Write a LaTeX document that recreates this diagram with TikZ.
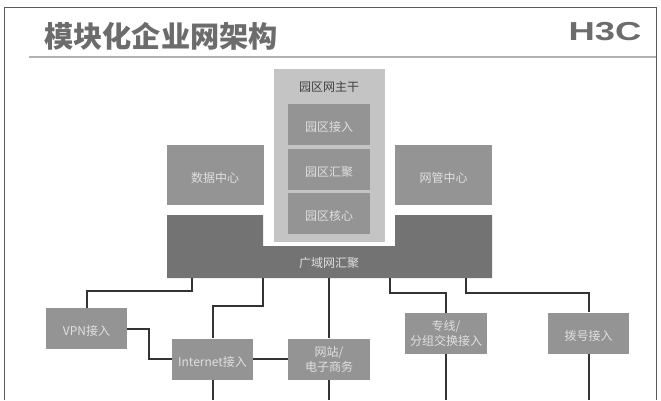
\documentclass[tikz,border=0pt]{standalone}
\usepackage{fontspec}
\setmainfont{Noto Sans CJK SC}
\newfontfamily\logofont{Liberation Sans}
\definecolor{backbonegray}{gray}{0.77}
\definecolor{boxgray}{gray}{0.58}
\definecolor{wangray}{gray}{0.45}
\definecolor{linegray}{gray}{0.2}
\definecolor{labelgray}{gray}{0.88}
\tikzset{
  block/.style={fill=boxgray,text=labelgray,font=\fontsize{12}{15}\selectfont,inner sep=0pt,align=center,minimum height=41pt,execute at begin node={\rule{0pt}{15.5pt}}},
  inner block/.style={block,minimum width=82pt},
  side block/.style={block,minimum width=97pt,minimum height=60pt},
  link/.style={draw=linegray,line width=2pt}
}
\begin{document}
\begin{tikzpicture}[x=1pt,y=-1pt]
  \useasboundingbox (0,0) rectangle (661,400);
  \draw[gray!70!black,line width=1pt] (4,400) -- (4,7.5) -- (656,7.5) -- (656,400);
  \draw[gray!60,line width=2pt] (29,57) -- (656,57);
  \node[anchor=west,inner sep=0pt,text=gray!85!black,font=\bfseries\fontsize{29.2}{32}\selectfont] (title) at (44,36) {模块化企业网架构};
  \node[inner sep=0pt,text=gray!85!black,font=\logofont\bfseries\fontsize{26}{26}\selectfont,xscale=1.4] (logo) at (605,31.5) {H3C};
  % backbone
  \node[fill=backbonegray,minimum width=111pt,minimum height=173pt,inner sep=0pt] (backbone) at (329.5,155) {};
  \node[font=\fontsize{12}{15}\selectfont,text=black!75] (backbonelabel) at (329,87) {园区网主干};
  \node[inner block] (access) at (329,124) {园区接入};
  \node[inner block] (agg) at (329,169) {园区汇聚};
  \node[inner block] (core) at (329,213.5) {园区核心};
  \node[side block] (data) at (215,175) {数据中心};
  \node[side block] (manage) at (443.5,175) {网管中心};
  % wan
  \fill[wangray] (167,215) -- (263,215) -- (263,246) -- (395,246) -- (395,215) -- (492,215) -- (492,278) -- (167,278) -- cycle;
  \node[text=labelgray,font=\fontsize{12}{15}\selectfont] (wan) at (329,263) {广域网汇聚};
  \coordinate (wan1) at (192,278);
  \coordinate (wan2) at (263,278);
  \coordinate (wan3) at (329,278);
  \coordinate (wan4) at (390,278);
  \coordinate (wan5) at (466,278);
  % access blocks
  \node[block,minimum width=81pt] (vpn) at (86.5,328.5) {VPN接入};
  \node[block,minimum width=81pt] (internet) at (212.5,359) {Internet接入};
  \node[block,minimum width=82pt] (web) at (329,359) {网站/\\电子商务};
  \node[block,minimum width=82pt] (leased) at (446,333.5) {专线/\\分组交换接入};
  \node[block,minimum width=81pt] (dial) at (588.5,333) {拨号接入};
  \coordinate (internetend) at (212.5,400);
  \coordinate (webend) at (329,400);
  \coordinate (leasedend) at (446,400);
  \coordinate (dialend) at (588.5,400);
  \begin{scope}[link]
    \draw (wan1) -- ++(0,13) -| (vpn);
    \draw (wan2) -- ++(0,28) -| (internet);
    \draw (wan3) to (web);
    \draw (wan4) -- ++(0,15) -| (leased);
    \draw (wan5) -- ++(0,15) -| (dial);
    \draw (vpn) -- ++(62,0) |- (internet);
    \draw (internet) to (web);
    \draw (internet) to (internetend);
    \draw (web) to (webend);
    \draw (leased) to (leasedend);
    \draw (dial) to (dialend);
  \end{scope}
\end{tikzpicture}
\end{document}
